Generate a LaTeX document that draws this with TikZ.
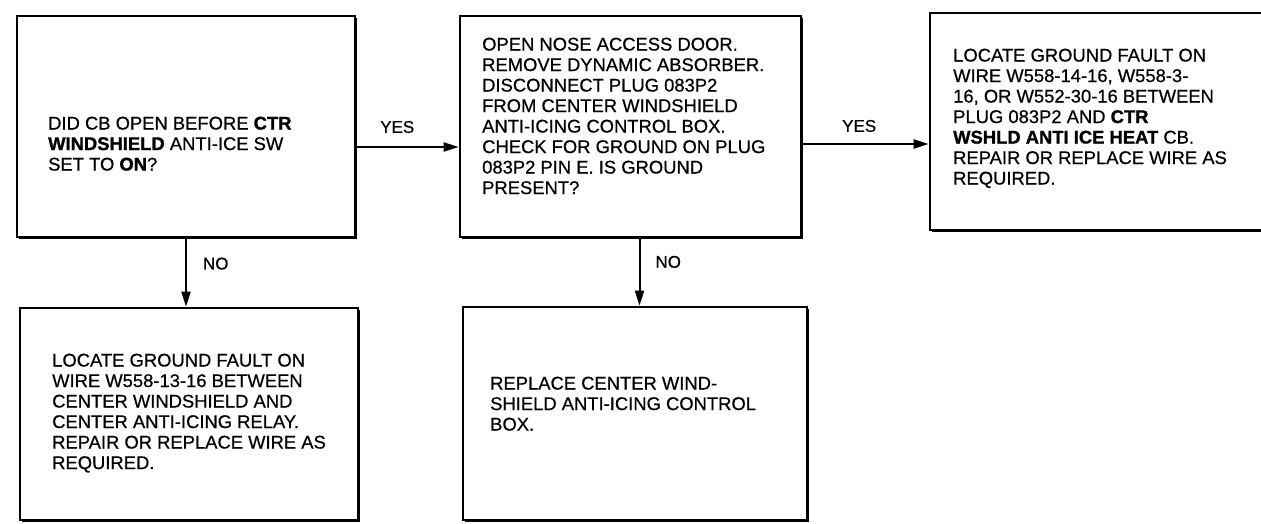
\documentclass[tikz,border=0pt]{standalone}
\usepackage{fontspec}
\setmainfont{Liberation Sans}[UprightFeatures={FakeBold=0.6},BoldFeatures={FakeBold=1.2}]
\usetikzlibrary{calc,shadows,arrows.meta}

\begin{document}
\begin{tikzpicture}[x=1pt,y=-1pt,
  stepBox/.style={draw,line width=2.6pt,fill=white,inner sep=0pt,
    drop shadow={shadow xshift=2.4pt,shadow yshift=-2.4pt,opacity=1,fill=black}},
  stepText/.style={anchor=north west,align=left,inner sep=0pt,
    font=\fontsize{18.4}{20.5}\selectfont},
  flowArrow/.style={line width=2pt,-{Triangle[length=15pt,width=9pt]}},
  branchLabel/.style={font=\fontsize{17}{20}\selectfont,inner sep=0pt}]
\clip (0,0) rectangle (1261,524);
% question boxes
\node[stepBox,minimum width=338pt,minimum height=221pt] (ctrSwitch) at (186,126.5) {};
\node[stepBox,minimum width=341pt,minimum height=221pt] (plugCheck) at (630.5,126.5) {};
\node[stepBox,minimum width=345pt,minimum height=217pt] (faultHeat) at (1102.5,121.5) {};
% action boxes
\node[stepBox,minimum width=338pt,minimum height=212pt] (faultRelay) at (189,414) {};
\node[stepBox,minimum width=344pt,minimum height=213pt] (newControl) at (635,413.5) {};

\node[stepText] (ctrSwitchText) at (48,116.5)
  {DID CB OPEN BEFORE \textbf{CTR}\\
   \textbf{WINDSHIELD} ANTI-ICE SW\\
   SET TO \textbf{ON}?};
\node[stepText] (plugCheckText) at (482,37.5)
  {OPEN NOSE ACCESS DOOR.\\
   REMOVE DYNAMIC ABSORBER.\\
   DISCONNECT PLUG 083P2\\
   FROM CENTER WINDSHIELD\\
   ANTI-ICING CONTROL BOX.\\
   CHECK FOR GROUND ON PLUG\\
   083P2 PIN E. IS GROUND\\
   PRESENT?};
\node[stepText] (faultHeatText) at (953,48.5)
  {LOCATE GROUND FAULT ON\\
   WIRE W558-14-16, W558-3-\\
   16, OR W552-30-16 BETWEEN\\
   PLUG 083P2 AND \textbf{CTR}\\
   \textbf{WSHLD ANTI ICE HEAT} CB.\\
   REPAIR OR REPLACE WIRE AS\\
   REQUIRED.};
\node[stepText] (faultRelayText) at (52,353.5)
  {LOCATE GROUND FAULT ON\\
   WIRE W558-13-16 BETWEEN\\
   CENTER WINDSHIELD AND\\
   CENTER ANTI-ICING RELAY.\\
   REPAIR OR REPLACE WIRE AS\\
   REQUIRED.};
\node[stepText] (newControlText) at (490,376.5)
  {REPLACE CENTER WIND-\\
   SHIELD ANTI-ICING CONTROL\\
   BOX.};

% yes / no branches
\draw[flowArrow] ([yshift=-20.5pt]ctrSwitch.east) -- ([yshift=-20.5pt]ctrSwitch.east -| plugCheck.west)
  node[branchLabel,pos=0.4,above=13pt] (yesOne) {YES};
\draw[flowArrow] ([yshift=-17.5pt]plugCheck.east) -- ([yshift=-17.5pt]plugCheck.east -| faultHeat.west)
  node[branchLabel,pos=0.45,above=11pt] (yesTwo) {YES};
\draw[flowArrow] (ctrSwitch.south) -- (ctrSwitch.south |- faultRelay.north)
  node[branchLabel,pos=0.37,right=16pt] (noOne) {NO};
\draw[flowArrow] ([xshift=9pt]plugCheck.south) -- ([xshift=9pt]plugCheck.south |- newControl.north)
  node[branchLabel,pos=0.35,right=15pt] (noTwo) {NO};
\end{tikzpicture}
\end{document}
